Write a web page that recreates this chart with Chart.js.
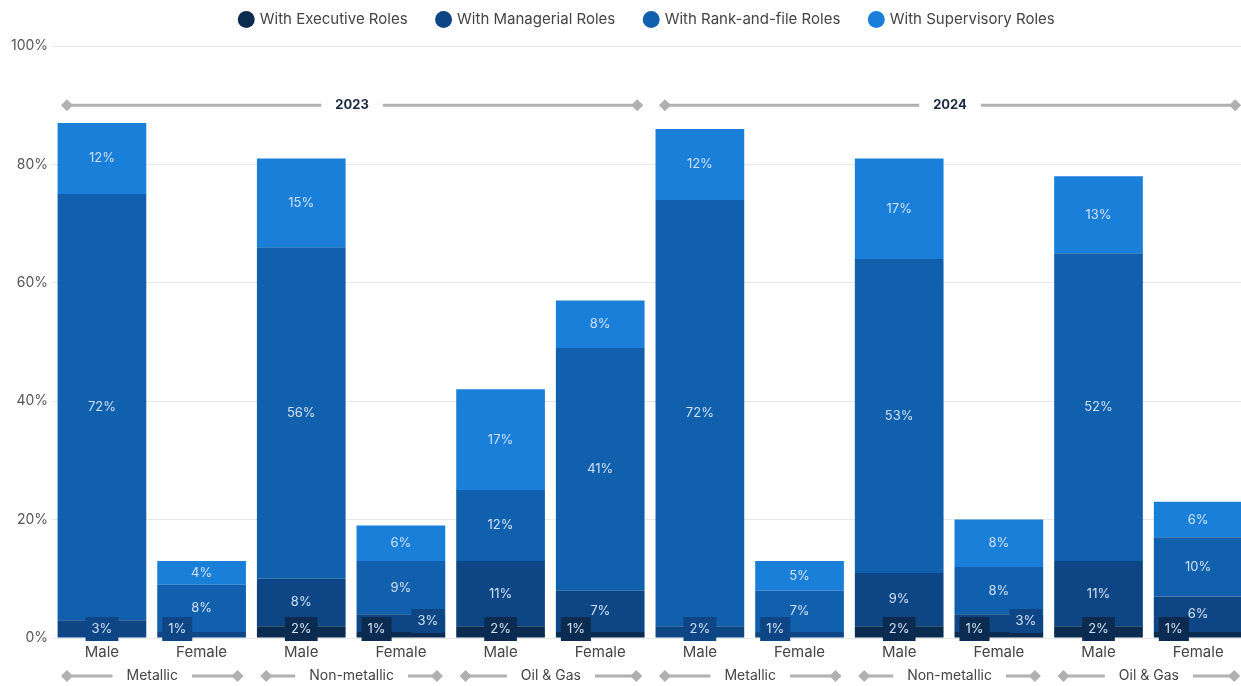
<!DOCTYPE html>
<html>
<head>
<meta charset="utf-8">
<script src="https://cdn.jsdelivr.net/npm/chart.js@4.4.0/dist/chart.umd.min.js"></script>
<style>
  html, body { margin: 0; padding: 0; background: #fff; overflow: hidden; }
  #wrap { width: 1248px; height: 686px; }
</style>
</head>
<body>
<div id="wrap"><canvas id="myChart"></canvas></div>
<script>
const categories = ['Male', 'Female', 'Male', 'Female', 'Male', 'Female',
                    'Male', 'Female', 'Male', 'Female', 'Male', 'Female'];
const sectors = ['Metallic', 'Non-metallic', 'Oil & Gas', 'Metallic', 'Non-metallic', 'Oil & Gas'];
const years = ['2023', '2024'];

const executive   = [0, 0, 2, 1, 2, 1, 0, 0, 2, 1, 2, 1];
const managerial  = [3, 1, 8, 3, 11, 7, 2, 1, 9, 3, 11, 6];
const rankAndFile = [72, 8, 56, 9, 12, 41, 72, 7, 53, 8, 52, 10];
const supervisory = [12, 4, 15, 6, 17, 8, 12, 5, 17, 8, 13, 6];

const yTicks = [0, 20, 40, 60, 80, 100];

const FONT = 'Inter';
const LABEL_COLOR = '#cfe0f4';

// values in each segment; tiny ones get a small tag at the base of the bar
const segmentLabels = {
  id: 'segmentLabels',
  afterDatasetsDraw(chart) {
    const ctx = chart.ctx;
    const zeroY = chart.scales.y.getPixelForValue(0);
    ctx.save();
    ctx.font = '13px ' + FONT;
    ctx.textAlign = 'center';
    ctx.textBaseline = 'middle';
    categories.forEach((cat, i) => {
      let tags = 0;
      chart.data.datasets.forEach((ds, d) => {
        const v = ds.data[i];
        if (!v) return;
        const bar = chart.getDatasetMeta(d).data[i];
        const text = v + '%';
        if (v <= 3) {
          const w = ctx.measureText(text).width + 12;
          let x = bar.x;
          if (i % 2 === 1) {
            x = tags === 0 ? bar.x - bar.width / 2 + w / 2 + 5
                           : bar.x + bar.width / 2 - w / 2 - 1;
          }
          const y = zeroY - 9 - tags * 8;
          ctx.fillStyle = ds.backgroundColor;
          ctx.fillRect(x - w / 2, y - 12, w, 24);
          ctx.fillStyle = LABEL_COLOR;
          ctx.fillText(text, x, y);
          tags++;
        } else {
          ctx.fillStyle = LABEL_COLOR;
          ctx.fillText(text, bar.x, (bar.y + bar.base) / 2);
        }
      });
    });
    ctx.restore();
  }
};

function bracket(ctx, x1, x2, y, text) {
  const tw = ctx.measureText(text).width;
  const mid = (x1 + x2) / 2;
  const gap = tw / 2 + 14;
  ctx.strokeStyle = '#b0b0b0';
  ctx.fillStyle = '#b0b0b0';
  ctx.lineWidth = 3;
  ctx.beginPath();
  ctx.moveTo(x1, y); ctx.lineTo(mid - gap, y);
  ctx.moveTo(mid + gap, y); ctx.lineTo(x2, y);
  ctx.stroke();
  [x1, x2].forEach(x => {
    ctx.beginPath();
    ctx.moveTo(x, y - 6); ctx.lineTo(x + 6, y);
    ctx.lineTo(x, y + 6); ctx.lineTo(x - 6, y);
    ctx.closePath();
    ctx.fill();
  });
}

// sector and year brackets
const groupBrackets = {
  id: 'groupBrackets',
  afterDraw(chart) {
    const ctx = chart.ctx;
    const xs = chart.scales.x;
    ctx.save();
    ctx.textAlign = 'center';
    ctx.textBaseline = 'middle';

    ctx.font = '14px ' + FONT;
    const yb = chart.height - 10;
    sectors.forEach((s, k) => {
      const x1 = xs.getPixelForValue(k * 2) - 35;
      const x2 = xs.getPixelForValue(k * 2 + 1) + 36;
      bracket(ctx, x1, x2, yb, s);
      ctx.fillStyle = '#444';
      ctx.fillText(s, (x1 + x2) / 2, yb);
    });

    ctx.font = 'bold 13px ' + FONT;
    const yt = chart.scales.y.getPixelForValue(90);
    years.forEach((yr, k) => {
      const x1 = xs.getPixelForValue(k * 6) - 35;
      const x2 = xs.getPixelForValue(k * 6 + 5) + 37;
      bracket(ctx, x1, x2, yt, yr);
      ctx.fillStyle = '#1b2a40';
      ctx.fillText(yr, (x1 + x2) / 2, yt);
    });
    ctx.restore();
  }
};

// extra room under the legend, and nudge it over the bars
const legendGap = {
  id: 'legendGap',
  beforeInit(chart) {
    const fit = chart.legend.fit;
    chart.legend.fit = function () {
      fit.call(this);
      this.height += 9;
    };
  },
  afterLayout(chart) {
    chart.legend.left += 20;
    chart.legend.right += 20;
  }
};

new Chart(document.getElementById('myChart'), {
  type: 'bar',
  data: {
    labels: categories,
    datasets: [
      { label: 'With Executive Roles', data: executive, backgroundColor: '#0b2c50' },
      { label: 'With Managerial Roles', data: managerial, backgroundColor: '#0e4685' },
      { label: 'With Rank-and-file Roles', data: rankAndFile, backgroundColor: '#1160ad' },
      { label: 'With Supervisory Roles', data: supervisory, backgroundColor: '#1a7fd8' }
    ]
  },
  options: {
    responsive: true,
    maintainAspectRatio: false,
    animation: false,
    layout: { padding: { left: 7, right: 0, top: -18, bottom: 20 } },
    datasets: { bar: { barPercentage: 0.89, categoryPercentage: 1 } },
    scales: {
      x: {
        stacked: true,
        grid: { display: false, drawTicks: false },
        border: { display: false },
        ticks: { color: '#444', font: { size: 15, family: FONT }, padding: 5 }
      },
      y: {
        stacked: true,
        min: 0,
        max: 100,
        afterBuildTicks: s => { s.ticks = yTicks.map(v => ({ value: v })); },
        ticks: { callback: v => v + '%', color: '#555', font: { size: 14, family: FONT }, padding: 4 },
        grid: { color: '#e8e8e8', drawTicks: false },
        border: { display: false }
      }
    },
    plugins: {
      legend: {
        labels: {
          usePointStyle: true,
          pointStyle: 'circle',
          boxWidth: 12,
          boxHeight: 12,
          color: '#444',
          font: { size: 15, family: FONT },
          padding: 30
        }
      },
      tooltip: { enabled: false }
    }
  },
  plugins: [segmentLabels, groupBrackets, legendGap]
});
</script>
</body>
</html>
